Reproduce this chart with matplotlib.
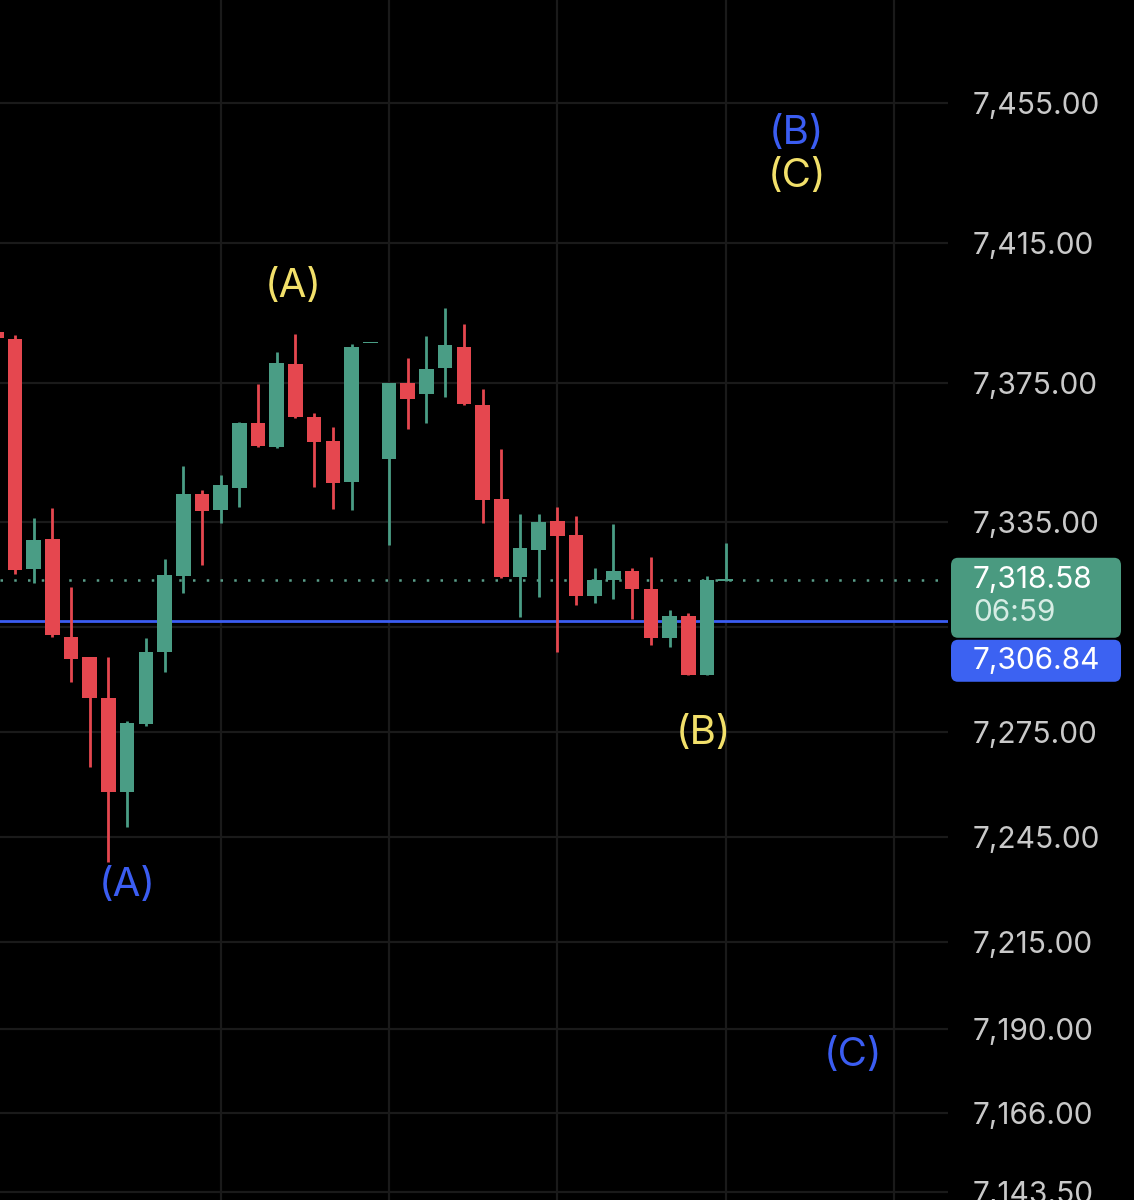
import matplotlib
matplotlib.use("Agg")
import matplotlib.pyplot as plt
from matplotlib.patches import FancyBboxPatch

plt.rcParams["font.family"] = ["Inter", "DejaVu Sans"]

# candles, oldest first (index -1 is cut off at the left edge)
opens = [7389.5, 7387.5, 7321.7, 7330.3, 7302.2, 7296.5, 7284.8, 7257.9, 7277.3, 7297.9,
         7319.7, 7343.1, 7338.6, 7344.8, 7363.4, 7356.6, 7380.3, 7365.2, 7358.3, 7346.6,
         7386.3, 7353.1, 7374.9, 7371.7, 7379.2, 7385.2, 7368.6, 7341.7, 7319.4, 7327.1,
         7335.4, 7331.4, 7313.9, 7318.5, 7321.1, 7316.0, 7301.9, 7308.2, 7291.3, 7318.3]
highs = [7390.1, 7388.6, 7336.3, 7339.1, 7316.5, 7296.6, 7296.5, 7278.2, 7301.9, 7324.5,
         7351.1, 7344.3, 7348.6, 7363.7, 7374.6, 7383.8, 7388.9, 7366.3, 7362.3, 7386.1,
         7386.4, 7375.0, 7382.0, 7388.3, 7396.4, 7391.8, 7373.2, 7356.0, 7337.4, 7337.4,
         7339.4, 7336.8, 7322.0, 7334.5, 7322.0, 7325.1, 7309.9, 7309.1, 7319.7, 7329.1]
lows = [7387.2, 7320.2, 7317.7, 7302.2, 7289.3, 7265.0, 7237.8, 7247.9, 7276.8, 7292.2,
        7314.8, 7322.8, 7334.8, 7339.4, 7356.6, 7356.3, 7364.9, 7345.1, 7338.8, 7338.6,
        7386.2, 7328.5, 7361.7, 7363.4, 7370.9, 7368.6, 7334.8, 7319.1, 7307.9, 7313.7,
        7297.9, 7311.4, 7311.9, 7313.1, 7307.4, 7299.9, 7299.4, 7291.2, 7291.2, 7318.2]
closes = [7387.8, 7321.4, 7330.0, 7302.8, 7295.9, 7284.8, 7257.9, 7277.6, 7297.9, 7320.0,
          7343.1, 7338.3, 7345.7, 7363.4, 7356.9, 7380.6, 7365.2, 7358.0, 7346.3, 7385.2,
          7386.4, 7374.9, 7370.3, 7378.9, 7385.8, 7368.9, 7341.4, 7319.4, 7327.7, 7335.1,
          7331.1, 7313.9, 7318.5, 7321.1, 7316.0, 7301.9, 7308.2, 7291.3, 7318.5, 7318.58]
first_index = -1

price_ticks = [7455.00, 7415.00, 7375.00, 7335.00, 7275.00, 7245.00, 7215.00, 7190.00, 7166.00, 7143.50]
hidden_grid = [7305.00]  # label sits under the price boxes
time_grid = [11, 20, 29, 38, 47]

last_price = 7318.58
countdown = "06:59"
line_price = 7306.84

# wave labels: (text, bar index, price, colour)
wave_labels = [
    ("(A)", 14.9, 7402.6, "yellow"),
    ("(A)", 6.0, 7231.0, "blue"),
    ("(B)", 36.8, 7274.7, "yellow"),
    ("(B)", 41.8, 7446.4, "blue"),
    ("(C)", 41.8, 7434.1, "yellow"),
    ("(C)", 44.8, 7182.6, "blue"),
]

UP = "#4a9d85"
DOWN = "#e5474f"
BLUE = "#3b5df2"
YELLOW = "#f2e06a"
GRID = "#1a1a1a"
TXT = "#c9c9c9"

fig = plt.figure(figsize=(11.34, 12), dpi=100, facecolor="black")
ax = fig.add_axes([0, 0, 948 / 1134, 1])
ax.set_facecolor("black")
ax.set_xlim(-0.80, 49.89)
ax.set_ylim(7141.12, 7484.47)
for s in ax.spines.values():
    s.set_visible(False)
ax.set_xticks([])

# grid
for p in price_ticks + hidden_grid:
    ax.axhline(p, color=GRID, lw=1.6, zorder=0)
for t in time_grid:
    ax.axvline(t, color=GRID, lw=1.6, zorder=0)

# price scale on the right
ax.yaxis.tick_right()
ax.set_yticks(price_ticks)
ax.set_yticklabels([f"{p:,.2f}" for p in price_ticks])
ax.tick_params(axis="y", length=0, pad=18, labelsize=21.5, labelcolor=TXT)

# candles
for i, (o, h, l, c) in enumerate(zip(opens, highs, lows, closes)):
    x = first_index + i
    col = UP if c >= o else DOWN
    ax.vlines(x, l, h, color=col, lw=2.0, zorder=3)
    body = max(abs(c - o), 0.45)
    ax.bar(x, body, bottom=min(o, c), width=0.78, color=col, lw=0, zorder=4)

# last price dotted line and blue horizontal line
ax.axhline(last_price, color="#5a9e8a", lw=1.8, ls=(0, (1, 4.5)), xmax=940 / 948, zorder=2)
ax.axhline(line_price, color=BLUE, lw=2.0, zorder=2)

# wave labels
for txt, x, y, c in wave_labels:
    ax.text(x, y, txt, color=YELLOW if c == "yellow" else BLUE, fontsize=29,
            ha="center", va="center", zorder=5)

# price boxes on the scale
to_fig = ax.transData + fig.transFigure.inverted()
fy = lambda p: to_fig.transform((0, p))[1]
x0, x1 = 951 / 1134, 1121 / 1134
px = 1 / 1200
g_top = fy(last_price) + 22 * px
g_bot = fy(last_price) - 58 * px
b_bot = g_bot - 44 * px
asp = 1134 / 1200
fig.patches.append(FancyBboxPatch((x0, g_bot), x1 - x0, g_top - g_bot,
                                  boxstyle="round,pad=0,rounding_size=0.006",
                                  mutation_aspect=1 / asp, fc="#4a9a80", ec="none",
                                  transform=fig.transFigure, figure=fig))
fig.patches.append(FancyBboxPatch((x0, b_bot), x1 - x0, g_bot - b_bot - 2 * px,
                                  boxstyle="round,pad=0,rounding_size=0.006",
                                  mutation_aspect=1 / asp, fc="#3c62f2", ec="none",
                                  transform=fig.transFigure, figure=fig))
tx = 973 / 1134
fig.text(tx, fy(last_price), f"{last_price:,.2f}", color="white", fontsize=21.5, va="center", ha="left")
fig.text(tx, fy(last_price) - 33 * px, countdown, color="#d6ece4", fontsize=21.5, va="center", ha="left")
fig.text(tx, (g_bot + b_bot) / 2 - 1 * px, f"{line_price:,.2f}", color="white", fontsize=21.5,
         va="center", ha="left")

fig.savefig("out.png", dpi=100, facecolor="black")
